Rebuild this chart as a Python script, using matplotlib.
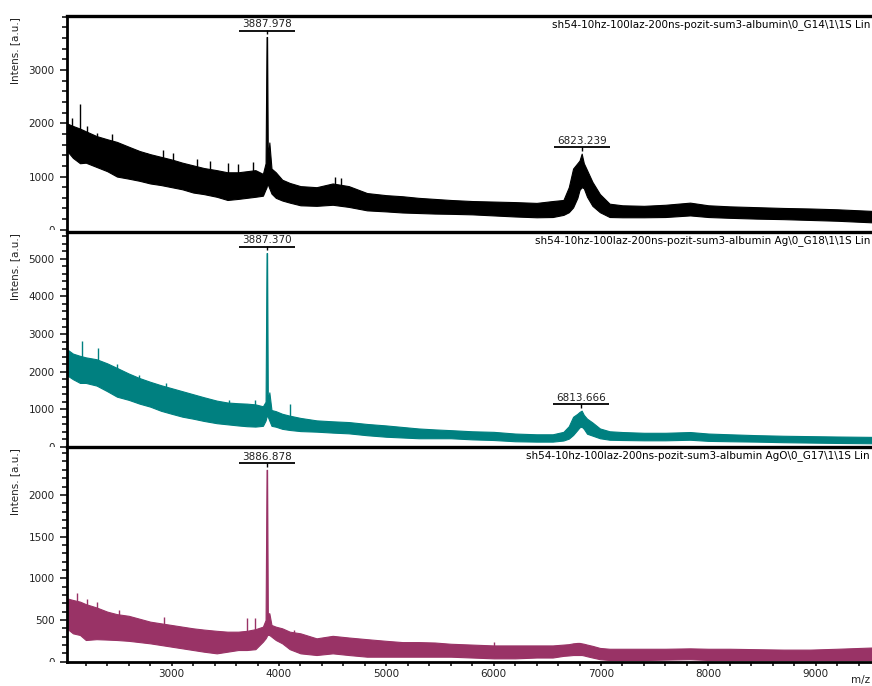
import matplotlib
matplotlib.use("Agg")
import matplotlib.pyplot as plt
from matplotlib import transforms
from matplotlib.ticker import FixedLocator, MultipleLocator, NullLocator
from matplotlib.transforms import Bbox, TransformedBbox

plt.rcParams["font.family"] = ["DejaVu Sans"]

mz = [2022, 2080, 2146, 2200, 2300, 2400, 2490, 2600, 2700, 2800, 2900, 3000,
      3100, 3200, 3300, 3420, 3520, 3620, 3700, 3780, 3850, 3875, 3884, 3889,
      3896, 3910, 3930, 3970, 4030, 4100, 4200, 4350, 4500, 4650, 4820, 5000,
      5150, 5300, 5450, 5600, 5800, 6000, 6200, 6400, 6550, 6650, 6700, 6740,
      6780, 6800, 6820, 6840, 6870, 6920, 6990, 7080, 7200, 7400, 7600, 7830,
      8000, 8200, 8450, 8700, 8950, 9200, 9525]

# albumin (black)
top_hi = [2000, 1950, 1900, 1850, 1760, 1700, 1650, 1560, 1480, 1420, 1370, 1320,
          1260, 1210, 1160, 1120, 1080, 1080, 1100, 1120, 1050, 1250, 3620, 3620,
          1300, 1640, 1150, 1080, 940, 880, 820, 800, 870, 820, 690, 650,
          630, 600, 580, 560, 540, 530, 520, 505, 540, 560, 800, 1150,
          1250, 1300, 1430, 1250, 1120, 900, 670, 490, 460, 450, 470, 510,
          460, 440, 425, 410, 400, 385, 355]
top_lo = [1490, 1350, 1250, 1260, 1180, 1100, 1000, 960, 920, 870, 840, 800,
          760, 700, 670, 620, 560, 580, 600, 620, 640, 760, 800, 850,
          850, 780, 680, 600, 550, 510, 460, 450, 470, 430, 365, 345,
          325, 315, 305, 300, 290, 270, 250, 235, 240, 280, 330, 420,
          600, 750, 800, 780, 620, 450, 330, 240, 235, 235, 240, 270,
          240, 225, 210, 200, 185, 170, 140]

# albumin Ag (teal)
mid_hi = [2600, 2480, 2420, 2380, 2330, 2220, 2100, 1950, 1830, 1730, 1640, 1560,
          1480, 1400, 1320, 1230, 1180, 1160, 1150, 1130, 1080, 1200, 5150, 5150,
          1200, 1450, 980, 950, 880, 830, 770, 705, 680, 660, 610, 570,
          530, 490, 465, 445, 415, 400, 355, 335, 335, 400, 550, 800,
          880, 930, 963, 850, 750, 650, 490, 415, 395, 375, 375, 395,
          355, 335, 312, 296, 286, 276, 266]
mid_lo = [1910, 1800, 1700, 1700, 1630, 1480, 1335, 1250, 1150, 1070, 960, 880,
          803, 750, 690, 630, 600, 570, 550, 540, 560, 700, 800, 850,
          800, 700, 560, 537, 480, 450, 420, 405, 380, 360, 310, 270,
          250, 230, 230, 230, 200, 183, 150, 140, 140, 170, 220, 316,
          450, 520, 537, 480, 350, 300, 230, 190, 183, 175, 175, 190,
          160, 150, 140, 125, 115, 105, 96]

# albumin AgO (maroon)
bot_hi = [760, 740, 720, 690, 650, 600, 570, 550, 515, 480, 460, 440,
          420, 400, 385, 370, 360, 360, 370, 390, 420, 500, 2300, 2300,
          580, 580, 440, 420, 400, 360, 340, 280, 310, 290, 270, 250,
          235, 235, 230, 215, 205, 195, 195, 195, 195, 205, 210, 220,
          225, 225, 220, 215, 205, 190, 165, 155, 155, 155, 155, 160,
          155, 155, 150, 145, 145, 155, 170]
bot_lo = [400, 340, 320, 260, 270, 265, 260, 250, 235, 220, 200, 180,
          160, 140, 120, 100, 120, 140, 140, 150, 240, 280, 300, 320,
          320, 320, 300, 260, 220, 150, 100, 80, 100, 80, 60, 60,
          60, 60, 60, 60, 50, 40, 40, 50, 50, 70, 75, 80,
          80, 80, 80, 75, 65, 50, 30, 20, 20, 20, 25, 30,
          20, 20, 20, 20, 20, 20, 20]

# isolated spikes above the noise band: position, top, base
top_spike_mz = [2069, 2146, 2214, 2307, 2441, 2674, 2767, 2922, 3015, 3233, 3357,
                3528, 3621, 3761, 4520, 4580]
top_spike_hi = [2090, 2360, 1945, 1820, 1795, 1505, 1440, 1490, 1440, 1320, 1290,
                1255, 1230, 1275, 1000, 980]
top_spike_lo = [1500, 1500, 1400, 1300, 1200, 1000, 950, 900, 850, 800, 750,
                700, 700, 700, 600, 600]
mid_spike_mz = [2162, 2310, 2490, 2700, 2950, 3530, 3780, 4100]
mid_spike_hi = [2815, 2630, 2200, 1900, 1700, 1250, 1250, 1130]
mid_spike_lo = [2000, 1900, 1600, 1300, 1100, 800, 800, 700]
bot_spike_mz = [2115, 2208, 2302, 2510, 2925, 3702, 3777, 4140, 6000]
bot_spike_hi = [820, 755, 720, 620, 540, 520, 527, 380, 240]
bot_spike_lo = [500, 450, 450, 400, 300, 250, 250, 200, 100]

# labelled peaks
top_peak_mz = [3887.978, 6823.239]
top_peak_int = [3620, 1430]
mid_peak_mz = [3887.370, 6813.666]
mid_peak_int = [5150, 963]
bot_peak_mz = [3886.878]
bot_peak_int = [2300]

titles = [
    "sh54-10hz-100laz-200ns-pozit-sum3-albumin\\0_G14\\1\\1S Lin",
    "sh54-10hz-100laz-200ns-pozit-sum3-albumin Ag\\0_G18\\1\\1S Lin",
    "sh54-10hz-100laz-200ns-pozit-sum3-albumin AgO\\0_G17\\1\\1S Lin",
]

W, H = 872, 686
fig = plt.figure(figsize=(W / 100, H / 100), dpi=100)

panels = [
    # (top px, bottom px, ymax, majors, minor step, color, hi, lo, spikes, peaks)
    (15.7, 229.8, 4020, [0, 1000, 2000, 3000], 200, "black", top_hi, top_lo,
     (top_spike_mz, top_spike_lo, top_spike_hi), (top_peak_mz, top_peak_int)),
    (231.7, 446.9, 5720, [0, 1000, 2000, 3000, 4000, 5000], 200, "#008080", mid_hi, mid_lo,
     (mid_spike_mz, mid_spike_lo, mid_spike_hi), (mid_peak_mz, mid_peak_int)),
    (446.9, 661.7, 2575, [0, 500, 1000, 1500, 2000], 100, "#993366", bot_hi, bot_lo,
     (bot_spike_mz, bot_spike_lo, bot_spike_hi), (bot_peak_mz, bot_peak_int)),
]

left = 66.7 / W
for i, (ptop, pbot, ymax, majors, mstep, col, hi, lo, spikes, peaks) in enumerate(panels):
    b = (H - pbot) / H
    t = (H - ptop) / H
    ax = fig.add_axes([left, b, 1.0 - left, t - b])
    ax.fill_between(mz, lo, hi, color=col, edgecolor=col, lw=0.8)
    ax.vlines(spikes[0], spikes[1], spikes[2], color=col, lw=1.0)
    ax.set_xlim(2022, 9525)
    ax.set_ylim(0, ymax)

    ax.yaxis.set_major_locator(FixedLocator(majors))
    ax.yaxis.set_minor_locator(MultipleLocator(mstep))
    ax.tick_params(axis="y", which="major", direction="out", length=5.4, width=1.1,
                   pad=3.2, labelsize=7.5, labelcolor="#222222")
    ax.tick_params(axis="y", which="minor", direction="out", length=3.6, width=1.1)

    ax.spines["right"].set_visible(False)
    ax.spines["top"].set_linewidth(2.4)
    ax.spines["left"].set_linewidth(2.0)
    if i < 2:
        ax.spines["bottom"].set_visible(False)
        ax.xaxis.set_major_locator(NullLocator())
        ax.xaxis.set_minor_locator(NullLocator())
    else:
        ax.spines["bottom"].set_linewidth(2.0)
        ax.xaxis.set_major_locator(MultipleLocator(1000))
        ax.xaxis.set_minor_locator(MultipleLocator(200))
        ax.tick_params(axis="x", which="both", direction="out", length=2.6, width=1.1,
                       pad=3.0, labelsize=7.5, labelcolor="#222222")

    # tick labels are cut at the panel edges, as in the original
    clip = TransformedBbox(Bbox([[0, b], [1, t]]), fig.transFigure)
    for tk in ax.yaxis.get_major_ticks(len(majors)):
        tk.label1.set_clip_on(True)
        tk.label1.set_clip_box(clip)

    fig.text(15 / W, t - 1.0 / H, "Intens. [a.u.]", rotation=90, ha="center", va="top",
             fontsize=7.5, color="#222222")
    ax.annotate(titles[i], xy=(1, 1), xycoords="axes fraction", xytext=(-2, -3.0),
                textcoords="offset pixels", ha="right", va="top", fontsize=7.5)

    line_tr = transforms.offset_copy(ax.transData, fig=fig, y=6.5, units="dots")
    tick_tr = transforms.offset_copy(ax.transData, fig=fig, y=5.0, units="dots")
    text_tr = transforms.offset_copy(ax.transData, fig=fig, y=10.0, units="dots")
    for pm, pi in zip(*peaks):
        ax.plot([pm - 262, pm + 262], [pi, pi], color="black", lw=1.3,
                transform=line_tr, clip_on=False, solid_capstyle="butt")
        ax.plot([pm], [pi], marker="|", ms=3, mew=1.0, color="black",
                transform=tick_tr, clip_on=False)
        ax.text(pm, pi, f"{pm:.3f}", transform=text_tr, ha="center", va="baseline",
                fontsize=7.5, color="#222222")

fig.text(870 / W, (H - 680) / H, "m/z", ha="right", va="center", fontsize=7.5,
         color="#222222")

fig.savefig("out.png", dpi=100)
